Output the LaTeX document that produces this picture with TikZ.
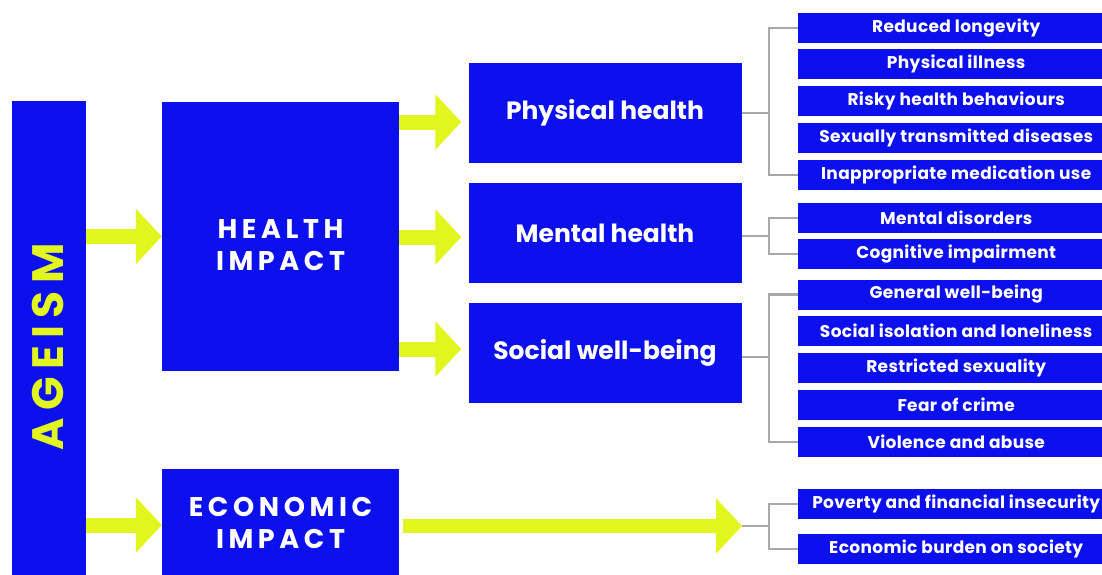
\documentclass[tikz,border=0pt]{standalone}
\usepackage{fontspec}
\setmainfont{Poppins}
\newfontfamily\spacedfont{Poppins}[LetterSpace=17]
\newfontfamily\ageismfont{Poppins}[LetterSpace=17]
\newfontfamily\itemfont{Poppins}[LetterSpace=2]
\usetikzlibrary{arrows.meta}
\definecolor{ablue}{RGB}{12,16,236}
\definecolor{ayellow}{RGB}{225,245,30}
\definecolor{agrey}{RGB}{168,168,168}
\begin{document}
\begin{tikzpicture}[x=1pt,y=-1pt,
  box/.style={fill=ablue, draw=none, inner sep=0pt, text=white, align=center},
  item/.style={box, minimum width=316pt, minimum height=30pt, anchor=west,
    font=\itemfont\bfseries\fontsize{17}{19}\selectfont},
  sub/.style={box, minimum width=273pt, minimum height=100pt,
    font=\bfseries\fontsize{25}{28}\selectfont},
  bigbox/.style={box, minimum width=237pt},
  bigtext/.style={text=white, align=center, inner sep=0pt,
    font=\spacedfont\bfseries\fontsize{27}{32}\selectfont},
  bigarrow/.style={draw=ayellow, line width=15pt, -{Triangle[width=54pt,length=26pt]}},
  bracket/.style={draw=agrey, line width=2.5pt}
]
\useasboundingbox (0,0) rectangle (1102,574);
\fill[white] (0,0) rectangle (1102,574);

% left column
\node[box, minimum width=74pt, minimum height=480pt] (ageism) at (49,341) {};
\node[rotate=90, text=ayellow, inner sep=0pt,
  font=\ageismfont\bfseries\fontsize{44}{48}\selectfont] (ageismtext) at (48,347) {AGEISM};

\node[bigbox, minimum height=269pt] (health) at (280.5,236.5) {};
\node[bigtext] (healthtext) at (280.5,245.5) {HEALTH\\IMPACT};
\node[bigbox, minimum height=112pt] (economic) at (280.5,525) {};
\node[bigtext] (economictext) at (280.5,523) {ECONOMIC\\IMPACT};

% middle column
\node[sub] (physical) at (605,113) {Physical health};
\node[sub] (mental) at (605,233) {Mental health};
\node[sub] (social) at (605,352.5) {Social well-being};

% right column
\node[item] (i1) at (798,28) {Reduced longevity};
\node[item] (i2) at (798,64) {Physical illness};
\node[item] (i3) at (798,101) {Risky health behaviours};
\node[item] (i4) at (798,138) {Sexually transmitted diseases};
\node[item] (i5) at (798,175) {Inappropriate medication use};
\node[item] (m1) at (798,218) {Mental disorders};
\node[item] (m2) at (798,254) {Cognitive impairment};
\node[item] (s1) at (798,294.5) {General well-being};
\node[item] (s2) at (798,331) {Social isolation and loneliness};
\node[item] (s3) at (798,368) {Restricted sexuality};
\node[item] (s4) at (798,405) {Fear of crime};
\node[item] (s5) at (798,442) {Violence and abuse};
\node[item] (e1) at (798,504) {Poverty and financial insecurity};
\node[item] (e2) at (798,549) {Economic burden on society};

% arrows
\draw[bigarrow] (ageism.east |- health.west) -- (health.west);
\draw[bigarrow] (ageism.east |- economic.west) -- (economic.west);
\draw[bigarrow] (health.east |- {0,122}) -- ([xshift=-7pt]physical.west |- {0,122});
\draw[bigarrow] (health.east |- {0,237}) -- ([xshift=-7pt]mental.west |- {0,237});
\draw[bigarrow] (health.east |- {0,349}) -- ([xshift=-7pt]social.west |- {0,349});
\coordinate (etip) at (742,526);
\draw[bigarrow, line width=14pt] ([xshift=4pt]economic.east |- etip) -- (etip);

% brackets
\coordinate (bx) at (769,0);
\draw[bracket] (physical.east) -- (physical.east -| bx);
\draw[bracket] (i1.west) -| (bx |- i5.west) -- (i5.west);
\draw[bracket] (mental.east |- {0,236}) -- (bx |- {0,236});
\draw[bracket] (m1.west) -| (bx |- m2.west) -- (m2.west);
\draw[bracket] (social.east |- {0,357}) -- (bx |- {0,357});
\draw[bracket] (s1.west) -| (bx |- s5.west) -- (s5.west);
\draw[bracket] (etip) -- (bx |- etip);
\draw[bracket] (e1.west) -| (bx |- e2.west) -- (e2.west);
\end{tikzpicture}
\end{document}
